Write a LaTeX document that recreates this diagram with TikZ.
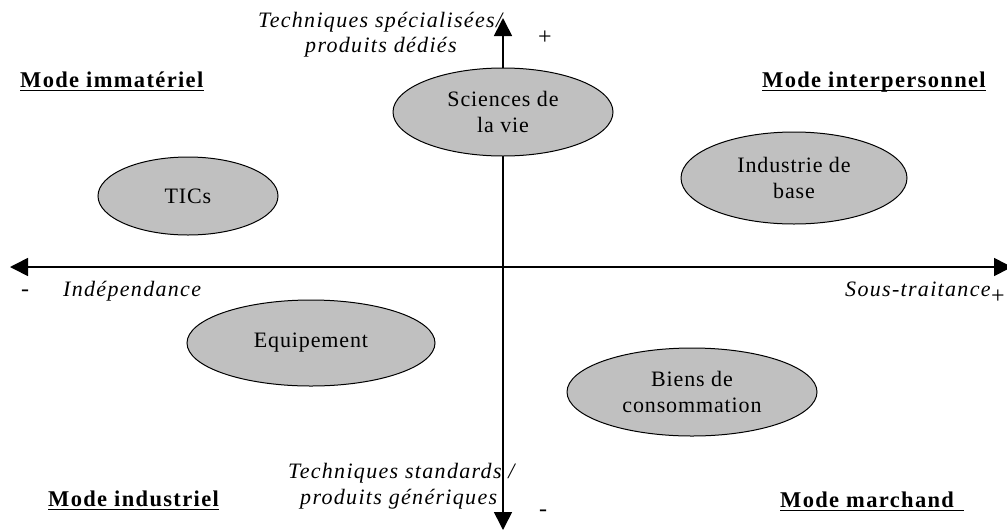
\documentclass[tikz,border=0pt]{standalone}
\usepackage{fontspec}
\setmainfont{Liberation Serif}[LetterSpace=4,ItalicFeatures={LetterSpace=6},BoldFeatures={LetterSpace=6}]
\usetikzlibrary{arrows.meta,shapes.geometric}
\definecolor{bubgray}{HTML}{C0C0C0}
\begin{document}
\begin{tikzpicture}[x=1pt,y=-1pt,
  bub/.style={ellipse, draw, line width=1pt, fill=bubgray, inner sep=0pt, align=center, font=\fontsize{22}{26}\selectfont},
  lab/.style={anchor=base west, inner sep=0pt, font=\fontsize{22}{26}\selectfont\itshape},
  head/.style={anchor=base west, inner sep=0pt, font=\fontsize{22.5}{26}\selectfont\bfseries},
  sign/.style={inner sep=0pt, font=\fontsize{24}{26}\selectfont},
  axis/.style={line width=1.6pt, -{Triangle[length=18pt,width=18pt]}},
  uline/.style={line width=1.8pt}]
\useasboundingbox (0,0) rectangle (1007,531);
% axes
\coordinate (O) at (503,267);
\coordinate (L) at (10,267);
\coordinate (R) at (1012,267);
\coordinate (T) at (503,18);
\coordinate (B) at (503,530);
\draw[axis] (O) -- (L);
\draw[axis] (O) -- (R);
\draw[axis] (O) -- (T);
\draw[axis] (O) -- (B);
% ellipses
\node[bub, minimum width=220pt, minimum height=88pt] (sci) at (503,112) {Sciences de\\la vie};
\node[bub, minimum width=180pt, minimum height=78pt] (tic) at (188,196) {TICs};
\node[bub, minimum width=226pt, minimum height=92pt] (ind) at (794,178) {Industrie de\\base};
\node[bub, minimum width=248pt, minimum height=86pt] (equ) at (311,343) {Equipement};
\node[bub, minimum width=250pt, minimum height=88pt] (bie) at (692,392) {Biens de\\consommation};
% axis labels
\node[lab] (t1) at (258,27) {Techniques spécialisées/};
\node[lab] (t2) at (305,52) {produits dédiés};
\node[sign] (p1) at (545,38) {+};
\node[sign] (m1) at (25,293) {-};
\node[lab] (ind1) at (63,296) {Indépendance};
\node[lab] (st) at (845,296) {Sous-traitance};
\node[sign] (p2) at (998,297) {+};
\node[lab] (b1) at (288,478) {Techniques standards /};
\node[lab] (b2) at (300,504) {produits génériques};
\node[sign] (m2) at (543,513) {-};
% headings
\node[head] (h1) at (20,87) {Mode immatériel};
\node[head] (h2) at (762,87) {Mode interpersonnel};
\node[head] (h3) at (48,506) {Mode industriel};
\node[head] (h4) at (780,507) {Mode marchand};
\draw[uline] ([yshift=-3.5pt]h1.base west) -- ([yshift=-3.5pt]h1.base east);
\draw[uline] ([yshift=-3.5pt]h2.base west) -- ([yshift=-3.5pt]h2.base east);
\draw[uline] ([yshift=-3.5pt]h3.base west) -- ([yshift=-3.5pt]h3.base east);
\draw[uline] ([yshift=-3.5pt]h4.base west) -- ([yshift=-3.5pt,xshift=10pt]h4.base east);
\end{tikzpicture}
\end{document}
